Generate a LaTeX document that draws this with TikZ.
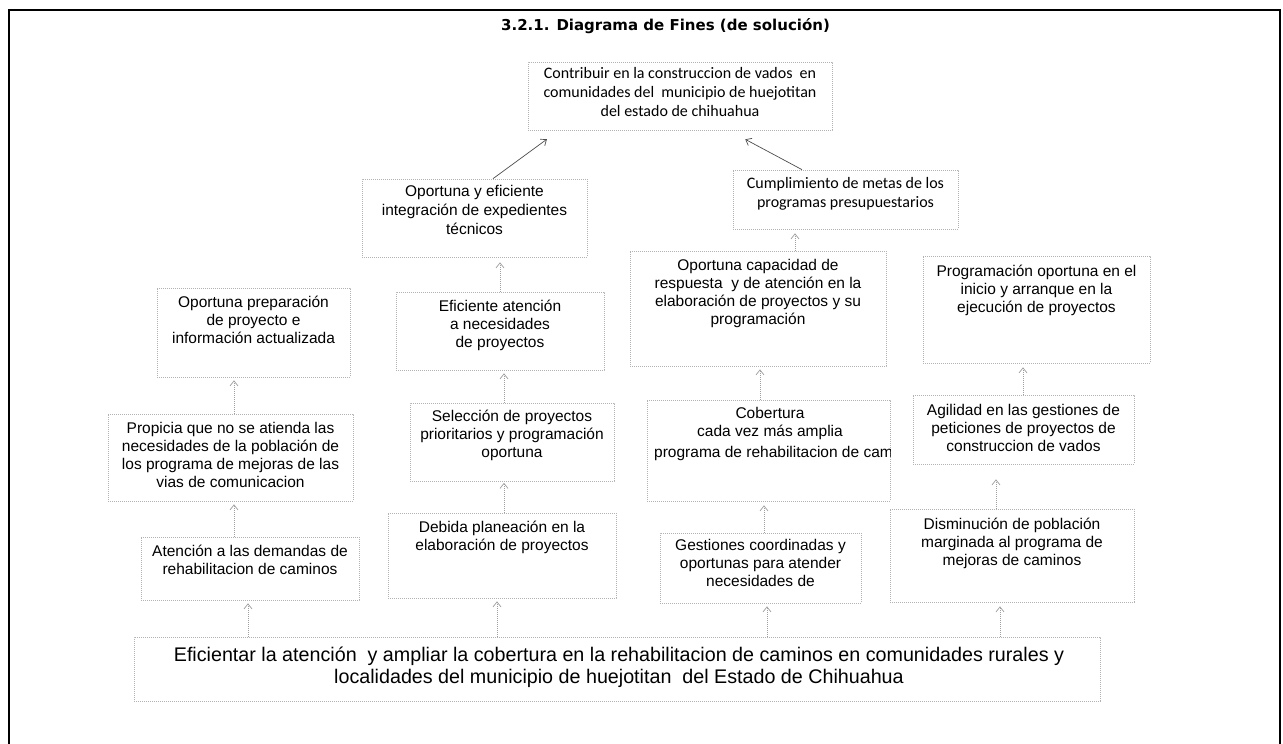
\documentclass[tikz,border=0pt]{standalone}
\usepackage{fontspec}
\setmainfont{Liberation Sans}
\newfontfamily\calib{Carlito}
\newfontfamily\titlef{DejaVu Sans}
\usetikzlibrary{arrows.meta}
\tikzset{
  boxnode/.style={draw=gray!60, dash pattern=on 0.8pt off 1.2pt, line width=0.7pt, inner sep=0pt, rectangle},
  txt/.style={inner sep=0pt, align=center, anchor=north, font=\fontsize{15.5}{18}\selectfont, execute at begin node=\strut},
  ctxt/.style={inner sep=0pt, align=center, anchor=north, font=\calib\fontsize{16}{19}\selectfont, execute at begin node=\strut},
  btxt/.style={inner sep=0pt, align=center, anchor=north, font=\fontsize{15.5}{19}\selectfont, execute at begin node=\strut},
  etxt/.style={inner sep=0pt, align=center, anchor=north, font=\fontsize{19.7}{22}\selectfont, execute at begin node=\strut},
  arr/.style={draw=gray!75, dash pattern=on 1pt off 1pt, line width=0.7pt, -{Straight Barb[length=5pt,width=8pt]}, shorten >=3pt},
  sarr/.style={draw=black!70, line width=0.7pt, -{Straight Barb[length=5pt,width=8pt]}},
  frame/.style={draw=black, line width=1.8pt}
}
\begin{document}
\begin{tikzpicture}[x=1pt, y=-1pt]
\useasboundingbox (0,0) rectangle (1283,744);
\draw[frame] (9,744) -- (9,10) -- (1280,10) -- (1280,744);
\node[anchor=base, inner sep=0pt, font=\titlef\bfseries\fontsize{15}{18}\selectfont] (title) at (665.5,30) {3.2.1. Diagrama de Fines (de solución)};

% boxes
\node[boxnode, minimum width=304pt, minimum height=68pt] (t) at (680,96) {};
\node[boxnode, minimum width=225pt, minimum height=78pt] (b1) at (474.5,218) {};
\node[boxnode, minimum width=225pt, minimum height=59pt] (b2) at (845.5,199.5) {};
\node[boxnode, minimum width=193pt, minimum height=89pt] (p1) at (253.5,332.5) {};
\node[boxnode, minimum width=245pt, minimum height=87pt] (p2) at (230.5,457.5) {};
\node[boxnode, minimum width=218pt, minimum height=63pt] (p3) at (250,568.5) {};
\node[boxnode, minimum width=208pt, minimum height=78pt] (q1) at (500,331) {};
\node[boxnode, minimum width=204pt, minimum height=78pt] (q2) at (512,442) {};
\node[boxnode, minimum width=228pt, minimum height=85pt] (q3) at (502,555.5) {};
\node[boxnode, minimum width=256pt, minimum height=115pt] (r1) at (758,308.5) {};
\node[boxnode, minimum width=227pt, minimum height=107pt] (s1) at (1036.5,309.5) {};
\node[boxnode, minimum width=243pt, minimum height=101pt] (r2) at (768.5,450.5) {};
\node[boxnode, minimum width=221pt, minimum height=69pt] (s2) at (1023.5,429.5) {};
\node[boxnode, minimum width=201pt, minimum height=70pt] (r3) at (760.5,568) {};
\node[boxnode, minimum width=244pt, minimum height=93pt] (s3) at (1012,555.5) {};
\node[boxnode, minimum width=966pt, minimum height=64pt] (e) at (617,669) {};

% texts
\node[ctxt] (tt) at (t.center |- 0,66.7) {Contribuir en la construccion de vados~ en\\comunidades del~ municipio de huejotitan\\del estado de chihuahua};
\node[btxt] (b1t) at (b1.center |- 0,184.7) {Oportuna y eficiente\\integración de expedientes\\técnicos};
\node[ctxt] (b2t) at (b2.center |- 0,176.7) {Cumplimiento de metas de los\\programas presupuestarios};
\node[txt] (p1t) at (p1.center |- 0,295.4) {Oportuna preparación\\de proyecto e\\información actualizada};
\node[txt] (p2t) at (p2.center |- 0,422.4) {Propicia que no se atienda las\\necesidades de la población de\\los programa de mejoras de las\\vias de comunicacion};
\node[txt] (p3t) at (p3.center |- 0,544.4) {Atención a las demandas de\\rehabilitacion de caminos};
\node[txt] (q1t) at (q1.center |- 0,299.4) {Eficiente atención\\a necesidades\\de proyectos};
\node[txt] (q2t) at (q2.center |- 0,409.4) {Selección de proyectos\\prioritarios y programación\\oportuna};
\node[txt] (q3t) at (q3.center |- 0,520.4) {Debida planeación en la\\elaboración de proyectos};
\node[txt] (r1t) at (r1.center |- 0,259.4) {Oportuna capacidad de\\respuesta~ y de atención en la\\elaboración de proyectos y su\\programación};
\node[txt] (s1t) at (s1.center |- 0,264.4) {Programación oportuna en el\\inicio y arranque en la\\ejecución de proyectos};
\node[txt] (r2t) at (770,407.4) {Cobertura\\cada vez más amplia};
\begin{scope}
\clip (r2.north west) rectangle (r2.south east);
\node[anchor=base west, inner sep=0pt, font=\fontsize{15.5}{18}\selectfont] (r2c) at (654,457) {programa de rehabilitacion de caminos};
\end{scope}
\node[txt] (s2t) at (s2.center |- 0,404.4) {Agilidad en las gestiones de\\peticiones de proyectos de\\construccion de vados};
\node[txt] (r3t) at (r3.center |- 0,539.4) {Gestiones coordinadas y\\oportunas para atender\\necesidades de};
\node[txt] (s3t) at (s3.center |- 0,517.4) {Disminución de población\\marginada al programa de\\mejoras de caminos};
\node[etxt] (et) at (619,647.1) {Eficientar la atención~ y ampliar la cobertura en la rehabilitacion de caminos en comunidades rurales y\\localidades del municipio de huejotitan~ del Estado de Chihuahua};

% connectors
\draw[sarr, shorten >=15pt] (b1.north -| 493,0) -- (t.south -| 559,0);
\draw[sarr, shorten >=19pt] (b2.north -| 802,0) -- (t.south -| 728.5,0);
\draw[arr] (p2.north -| 234,0) -- (p1.south -| 234,0);
\draw[arr] (p3.north -| 234,0) -- (p2.south -| 234,0);
\draw[arr] (e.north -| 248,0) -- (p3.south -| 248,0);
\draw[arr] (q2.north -| 504,0) -- (q1.south -| 504,0);
\draw[arr, shorten >=5pt] (q1.north -| 500,0) -- (b1.south -| 500,0);
\draw[arr, shorten >=1.5pt] (q3.north -| 504,0) -- (q2.south -| 504,0);
\draw[arr] (e.north -| 497,0) -- (q3.south -| 497,0);
\draw[arr, shorten >=4pt] (r1.north -| 795,0) -- (b2.south -| 795,0);
\draw[arr] (r2.north -| 760,0) -- (r1.south -| 760,0);
\draw[arr, shorten >=4pt] (r3.north -| 764,0) -- (r2.south -| 764,0);
\draw[arr] (e.north -| 767,0) -- (r3.south -| 767,0);
\draw[arr, shorten >=4pt] (s2.north -| 1023,0) -- (s1.south -| 1023,0);
\draw[arr, shorten >=15pt] (s3.north -| 996,0) -- (s2.south -| 996,0);
\draw[arr, shorten >=4pt] (e.north -| 1000,0) -- (s3.south -| 1000,0);
\end{tikzpicture}
\end{document}
